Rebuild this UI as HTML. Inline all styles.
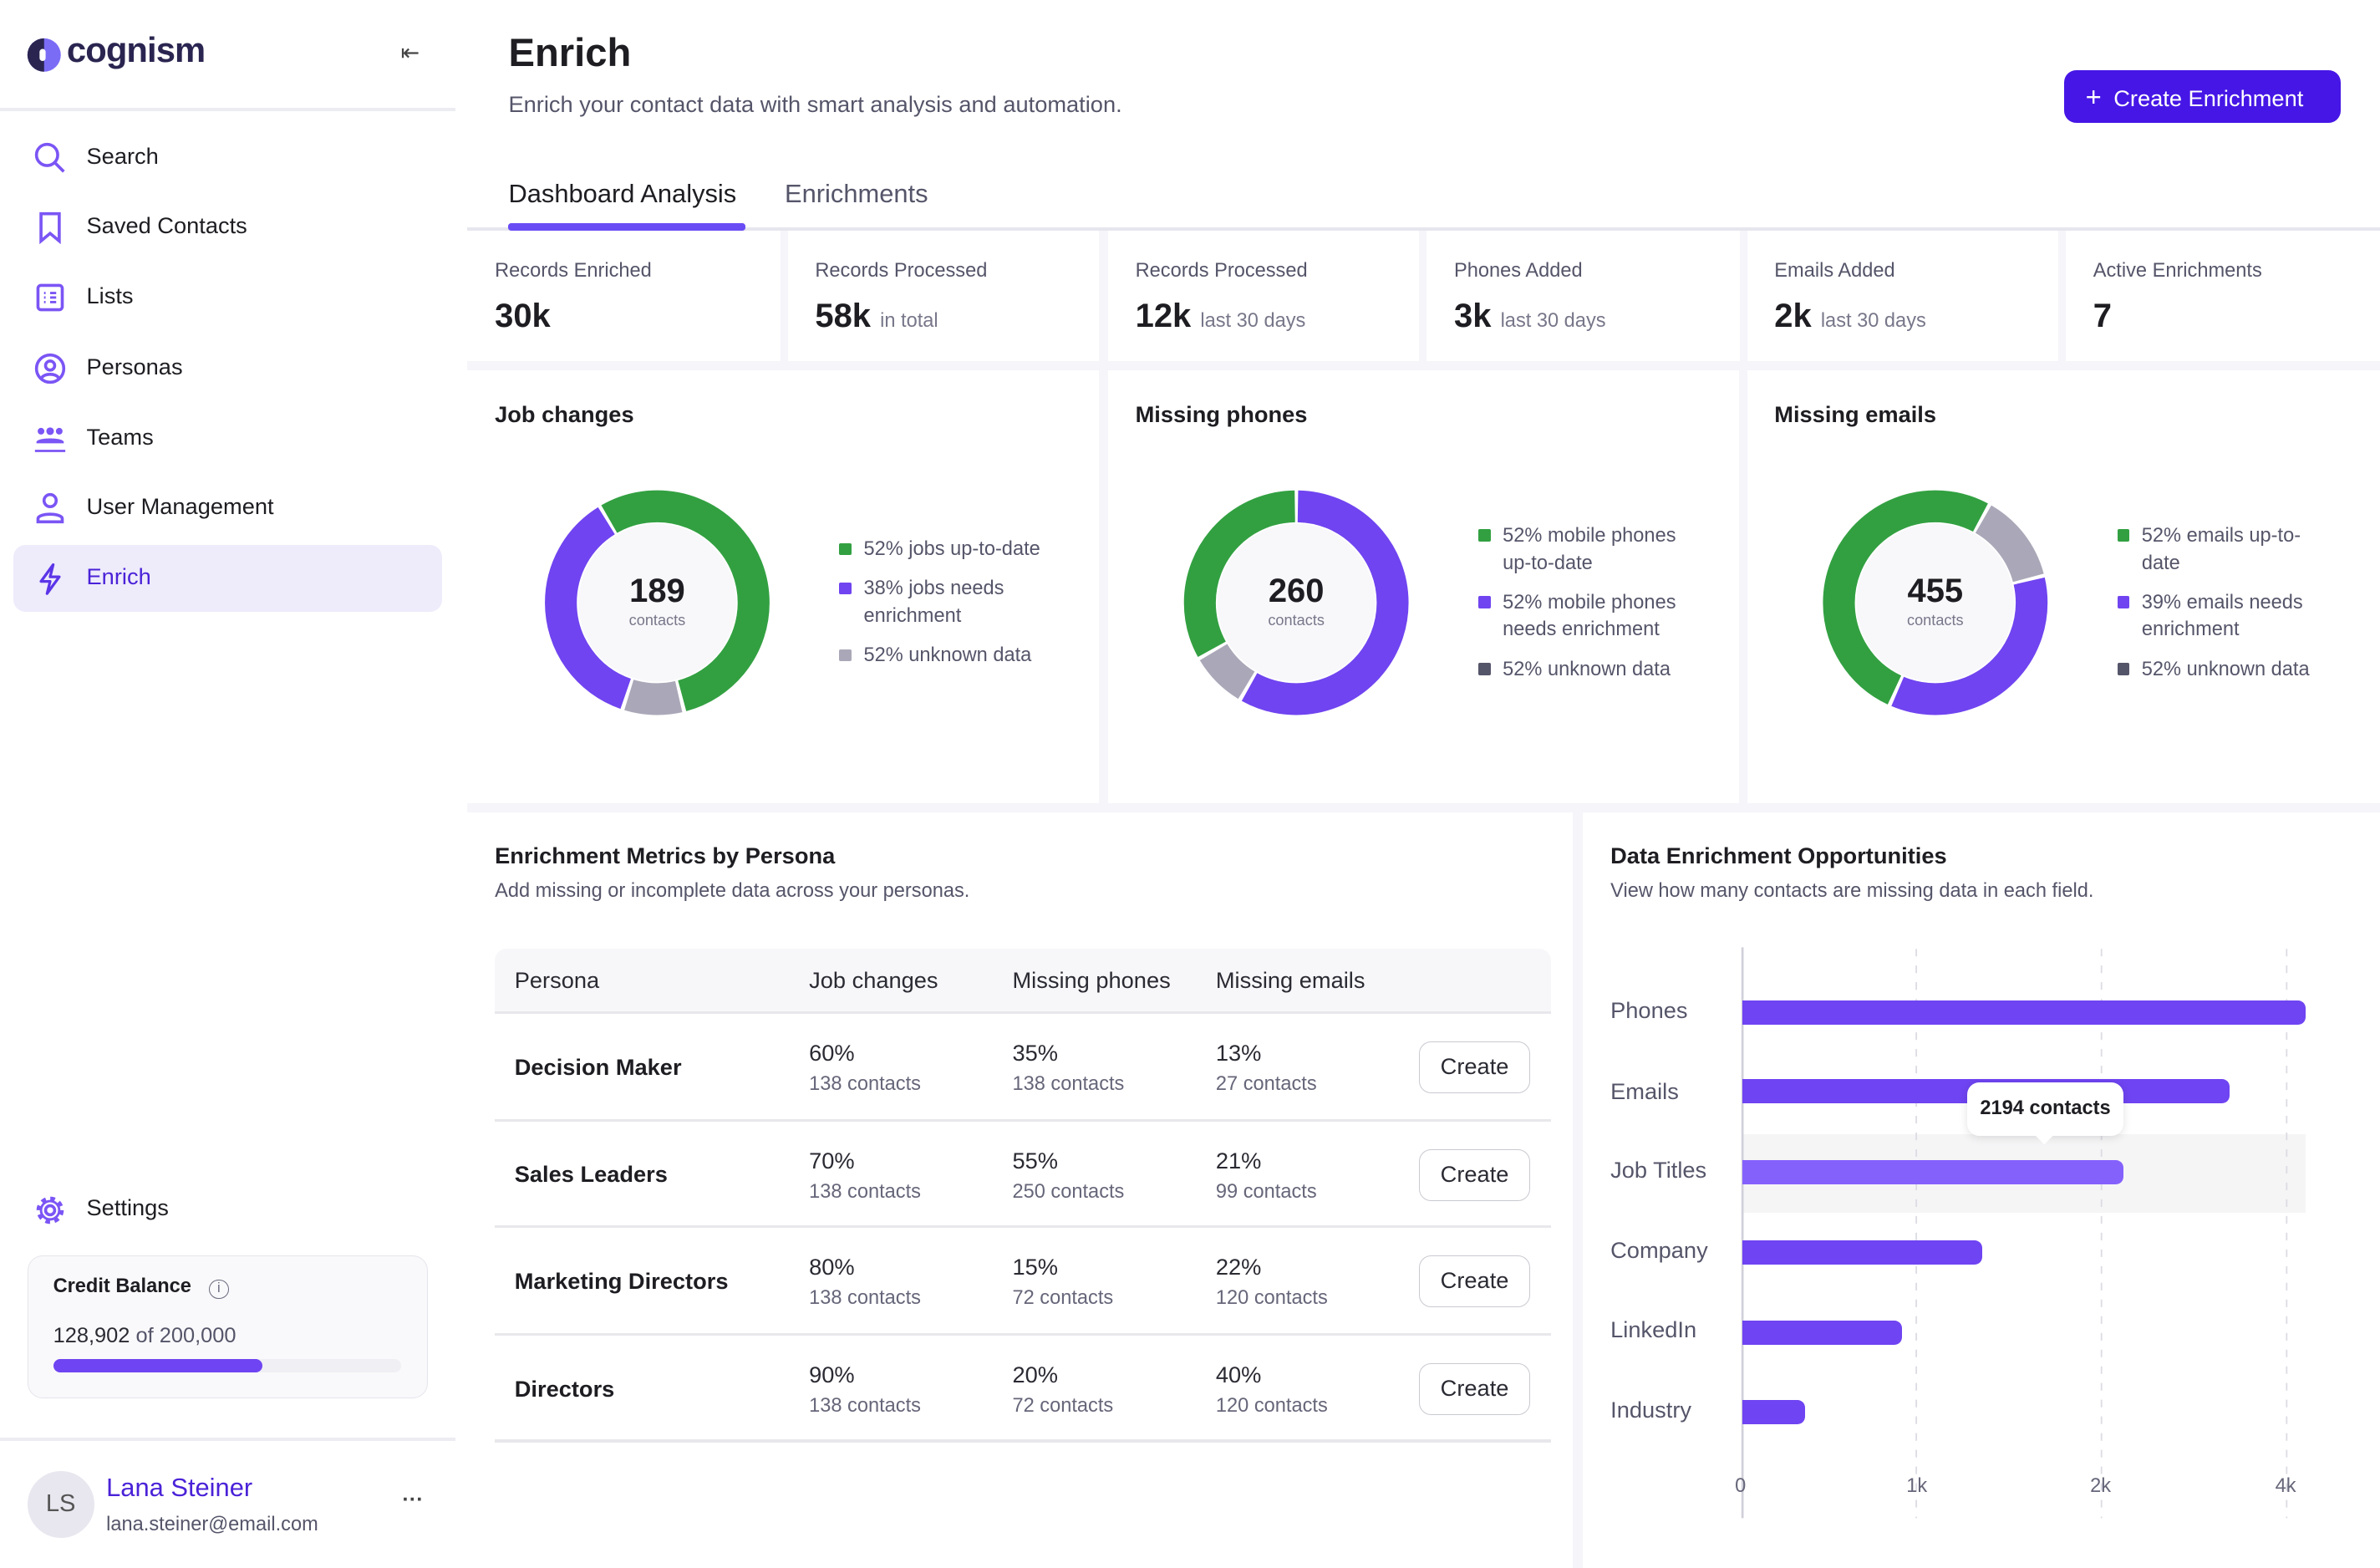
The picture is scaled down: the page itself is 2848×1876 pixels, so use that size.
<!DOCTYPE html>
<html><head><meta charset="utf-8"><style>
*{box-sizing:border-box;margin:0;padding:0}
html,body{width:2848px;height:1876px;overflow:hidden;background:#fff}
#r{zoom:1.81633;width:1568px;height:1033px;position:relative;font-family:"Liberation Sans",sans-serif;color:#1d1d22;background:#fff}
.a{position:absolute;white-space:nowrap}
.bg{position:absolute;background:#f6f6fa}
.card{position:absolute;background:#fff}
.nav{position:absolute;left:57px;font-size:15px;color:#1d1d22}
.ic{position:absolute;left:22px;width:22px;height:22px}
.lab{font-size:13px;color:#55556a}
.big{font-size:22px;font-weight:bold;color:#1d1d22}
.sm{font-size:13px;color:#77778a;font-weight:normal}
.h{font-size:15px;font-weight:bold;color:#1d1d22}
.leg{font-size:13px;color:#55556a;line-height:18px}
.dot{display:inline-block;width:8px;height:8px;border-radius:1px;margin-right:8px}
.th{font-size:15px;color:#2a2a33}
.pct{font-size:15px;color:#2a2a33}
.ct{font-size:13px;color:#66667a}
.btn{position:absolute;left:935px;width:73px;height:34px;border:1px solid #c9c9d1;border-radius:8px;font-size:15px;color:#2a2a33;text-align:center;line-height:32px;background:#fff}
.rl{position:absolute;left:326px;width:696px;height:2px;background:#e8e8ec}
.yl{position:absolute;left:1061px;font-size:15px;color:#55556a}
.bar{position:absolute;left:1148px;height:16px;background:#6f44f2;border-radius:0 5px 5px 0}
.tk{position:absolute;top:972px;font-size:13px;color:#66667a}
</style></head><body><div id="r">
<!-- sidebar -->
<svg class="a" style="left:17px;top:24px" width="24" height="24" viewBox="0 0 24 24"><circle cx="12" cy="12" r="11" fill="#7b6cf6"/><path d="M12 1A11 11 0 0 0 12 23Z" fill="#2a2550"/><rect x="9" y="8" width="4" height="8" rx="2" fill="#fff"/></svg>
<div class="a" style="left:44px;top:20px;font-size:23px;font-weight:bold;color:#2a2550;letter-spacing:-0.5px">cognism</div>
<div class="a" style="left:264px;top:26px;font-size:15px;color:#444">&#8676;</div>
<div class="a" style="left:0;top:71px;width:300px;height:2px;background:#ececf2"></div>
<svg class="ic" style="top:93px" viewBox="0 0 22 22"><circle cx="9" cy="9" r="7" fill="none" stroke="#7b55f5" stroke-width="2"/><path d="M14 14l6 6" stroke="#7b55f5" stroke-width="2"/></svg>
<div class="nav" style="top:94px">Search</div>
<svg class="ic" style="top:139px" viewBox="0 0 22 22"><path d="M5 2h12v18l-6-5-6 5z" fill="none" stroke="#7b55f5" stroke-width="2"/></svg>
<div class="nav" style="top:140px">Saved Contacts</div>
<svg class="ic" style="top:185px" viewBox="0 0 22 22"><rect x="3" y="3" width="16" height="16" rx="2" fill="none" stroke="#7b55f5" stroke-width="2"/><path d="M7 8h1M11 8h4M7 11h1M11 11h4M7 14h1M11 14h4" stroke="#7b55f5" stroke-width="1.6"/></svg>
<div class="nav" style="top:186px">Lists</div>
<svg class="ic" style="top:232px" viewBox="0 0 22 22"><circle cx="11" cy="11" r="9" fill="none" stroke="#7b55f5" stroke-width="2"/><circle cx="11" cy="9" r="3" fill="none" stroke="#7b55f5" stroke-width="2"/><path d="M5.5 17c2-3 9-3 11 0" fill="none" stroke="#7b55f5" stroke-width="2"/></svg>
<div class="nav" style="top:233px">Personas</div>
<svg class="ic" style="top:278px" viewBox="0 0 22 22"><circle cx="5" cy="6" r="2.2" fill="#7b55f5"/><circle cx="11" cy="6" r="2.5" fill="#7b55f5"/><circle cx="17" cy="6" r="2.2" fill="#7b55f5"/><path d="M2 13c1-3 17-3 18 0v1H2z" fill="#7b55f5"/><path d="M1 19h20" stroke="#7b55f5" stroke-width="1.5"/></svg>
<div class="nav" style="top:279px">Teams</div>
<svg class="ic" style="top:324px" viewBox="0 0 22 22"><circle cx="11" cy="6" r="4" fill="none" stroke="#7b55f5" stroke-width="2"/><path d="M3 20v-2c0-4 16-4 16 0v2z" fill="none" stroke="#7b55f5" stroke-width="2"/></svg>
<div class="nav" style="top:325px">User Management</div>
<div class="a" style="left:9px;top:359px;width:282px;height:44px;background:#eeebfb;border-radius:8px"></div>
<svg class="ic" style="top:370px" viewBox="0 0 22 22"><path d="M13 2L5 13h6l-2 8 8-11h-6z" fill="none" stroke="#5b35e8" stroke-width="1.8" stroke-linejoin="round"/></svg>
<div class="nav" style="top:371px;color:#4a22d8">Enrich</div>
<svg class="ic" style="top:786px" viewBox="0 0 22 22"><circle cx="11" cy="11" r="3" fill="none" stroke="#7b55f5" stroke-width="2"/><circle cx="11" cy="11" r="7.5" fill="none" stroke="#7b55f5" stroke-width="3" stroke-dasharray="3 2.9"/><circle cx="11" cy="11" r="6" fill="none" stroke="#7b55f5" stroke-width="1.6"/></svg>
<div class="nav" style="top:787px">Settings</div>
<div class="a" style="left:18px;top:827px;width:264px;height:94px;background:#f9f9fb;border:1px solid #e4e4ec;border-radius:10px"></div>
<div class="a" style="left:35px;top:840px;font-size:13px;font-weight:bold">Credit Balance <span style="display:inline-block;width:13px;height:13px;border:1px solid #6a6a80;border-radius:50%;font-size:9px;text-align:center;line-height:11px;color:#6a6a80;margin-left:8px;font-weight:normal">i</span></div>
<div class="a" style="left:35px;top:872px;font-size:14px;color:#2a2a33">128,902 <span style="color:#55556a">of 200,000</span></div>
<div class="a" style="left:35px;top:895px;width:229px;height:9px;background:#efeff4;border-radius:5px"></div>
<div class="a" style="left:35px;top:895px;width:138px;height:9px;background:#6f44f2;border-radius:5px"></div>
<div class="a" style="left:0;top:947px;width:300px;height:2px;background:#ececf2"></div>
<div class="a" style="left:18px;top:969px;width:44px;height:44px;border-radius:50%;background:#e8e7ef;text-align:center;line-height:44px;font-size:16px;color:#555">LS</div>
<div class="a" style="left:70px;top:970px;font-size:17px;color:#4a22d8">Lana Steiner</div>
<div class="a" style="left:70px;top:997px;font-size:13px;color:#55556a">lana.steiner@email.com</div>
<div class="a" style="left:265px;top:980px;font-size:14px;color:#444;font-weight:bold">&middot;&middot;&middot;</div>
<!-- header -->
<div class="a" style="left:335px;top:20px;font-size:26px;font-weight:bold;color:#1d1d22">Enrich</div>
<div class="a" style="left:335px;top:60px;font-size:15px;color:#55556a">Enrich your contact data with smart analysis and automation.</div>
<div class="a" style="left:1360px;top:46px;width:182px;height:35px;background:#4616e6;border-radius:8px;color:#fff;font-size:15px;line-height:35px;padding-left:14px"><span style="font-size:18px;margin-right:8px">+</span>Create Enrichment</div>
<div class="a" style="left:335px;top:118px;font-size:17px;color:#1d1d22">Dashboard Analysis</div>
<div class="a" style="left:517px;top:118px;font-size:17px;color:#55556a">Enrichments</div>
<div class="bg" style="left:308px;top:150px;width:1260px;height:883px;background:#f5f5fa"></div>
<div class="a" style="left:308px;top:150px;width:1260px;height:2px;background:#e6e6ee"></div>
<div class="a" style="left:335px;top:147px;width:156px;height:5px;background:#6a4cf5;border-radius:2px"></div>
<!-- stats -->
<div class="card" style="left:308px;top:152px;width:206px;height:86px"></div>
<div class="card" style="left:519px;top:152px;width:205px;height:86px"></div>
<div class="card" style="left:730px;top:152px;width:205px;height:86px"></div>
<div class="card" style="left:940px;top:152px;width:206px;height:86px"></div>
<div class="card" style="left:1151px;top:152px;width:205px;height:86px"></div>
<div class="card" style="left:1361px;top:152px;width:207px;height:86px"></div>
<div class="a lab" style="left:326px;top:171px">Records Enriched</div><div class="a big" style="left:326px;top:196px">30k</div>
<div class="a lab" style="left:537px;top:171px">Records Processed</div><div class="a big" style="left:537px;top:196px">58k <span class="sm">in total</span></div>
<div class="a lab" style="left:748px;top:171px">Records Processed</div><div class="a big" style="left:748px;top:196px">12k <span class="sm">last 30 days</span></div>
<div class="a lab" style="left:958px;top:171px">Phones Added</div><div class="a big" style="left:958px;top:196px">3k <span class="sm">last 30 days</span></div>
<div class="a lab" style="left:1169px;top:171px">Emails Added</div><div class="a big" style="left:1169px;top:196px">2k <span class="sm">last 30 days</span></div>
<div class="a lab" style="left:1379px;top:171px">Active Enrichments</div><div class="a big" style="left:1379px;top:196px">7</div>
<!-- donut cards -->
<div class="card" style="left:308px;top:244px;width:416px;height:285px"></div>
<div class="card" style="left:730px;top:244px;width:416px;height:285px"></div>
<div class="card" style="left:1151px;top:244px;width:417px;height:285px"></div>
<div class="a h" style="left:326px;top:264px">Job changes</div>
<div class="a h" style="left:748px;top:264px">Missing phones</div>
<div class="a h" style="left:1169px;top:264px">Missing emails</div>
<svg class="a" style="left:0;top:0" width="1568" height="1033">
 <g transform="rotate(-90 433 397)" fill="none" stroke-width="21">
  <circle cx="433" cy="397" r="63.5" stroke="#32a041" stroke-dasharray="216.1 182.9" stroke-dashoffset="-365.7"/>
  <circle cx="433" cy="397" r="63.5" stroke="#aaa8b8" stroke-dasharray="33.2 365.8" stroke-dashoffset="-185.1"/>
  <circle cx="433" cy="397" r="63.5" stroke="#7044f0" stroke-dasharray="143 256" stroke-dashoffset="-220.6"/>
 </g>
 <circle cx="433" cy="397" r="52" fill="#f8f8fb"/>
 <g transform="rotate(-90 854 397)" fill="none" stroke-width="21">
  <circle cx="854" cy="397" r="63.5" stroke="#7044f0" stroke-dasharray="230.5 168.5" stroke-dashoffset="-1.1"/>
  <circle cx="854" cy="397" r="63.5" stroke="#aaa8b8" stroke-dasharray="31 368" stroke-dashoffset="-233.9"/>
  <circle cx="854" cy="397" r="63.5" stroke="#32a041" stroke-dasharray="130.8 268.2" stroke-dashoffset="-267.1"/>
 </g>
 <circle cx="854" cy="397" r="52" fill="#f8f8fb"/>
 <g transform="rotate(-90 1275 397)" fill="none" stroke-width="21">
  <circle cx="1275" cy="397" r="63.5" stroke="#7044f0" stroke-dasharray="139.6 259.4" stroke-dashoffset="-85.3"/>
  <circle cx="1275" cy="397" r="63.5" stroke="#32a041" stroke-dasharray="202.8 196.2" stroke-dashoffset="-227.2"/>
  <circle cx="1275" cy="397" r="63.5" stroke="#aaa8b8" stroke-dasharray="49.9 349.1" stroke-dashoffset="-33.2"/>
 </g>
 <circle cx="1275" cy="397" r="52" fill="#f8f8fb"/>
</svg>
<div class="a" style="left:383px;top:377px;width:100px;text-align:center;font-size:22px;font-weight:bold">189</div>
<div class="a" style="left:383px;top:403px;width:100px;text-align:center;font-size:10px;color:#77778a">contacts</div>
<div class="a" style="left:804px;top:377px;width:100px;text-align:center;font-size:22px;font-weight:bold">260</div>
<div class="a" style="left:804px;top:403px;width:100px;text-align:center;font-size:10px;color:#77778a">contacts</div>
<div class="a" style="left:1225px;top:377px;width:100px;text-align:center;font-size:22px;font-weight:bold">455</div>
<div class="a" style="left:1225px;top:403px;width:100px;text-align:center;font-size:10px;color:#77778a">contacts</div>
<div class="a leg" style="left:553px;top:353px"><span class="dot" style="background:#32a041"></span>52% jobs up-to-date</div>
<div class="a leg" style="left:553px;top:379px"><span class="dot" style="background:#7044f0"></span>38% jobs needs<br><span style="padding-left:16px">enrichment</span></div>
<div class="a leg" style="left:553px;top:423px"><span class="dot" style="background:#aaa8b8"></span>52% unknown data</div>
<div class="a leg" style="left:974px;top:344px"><span class="dot" style="background:#32a041"></span>52% mobile phones<br><span style="padding-left:16px">up-to-date</span></div>
<div class="a leg" style="left:974px;top:388px"><span class="dot" style="background:#7044f0"></span>52% mobile phones<br><span style="padding-left:16px">needs enrichment</span></div>
<div class="a leg" style="left:974px;top:432px"><span class="dot" style="background:#55556a"></span>52% unknown data</div>
<div class="a leg" style="left:1395px;top:344px"><span class="dot" style="background:#32a041"></span>52% emails up-to-<br><span style="padding-left:16px">date</span></div>
<div class="a leg" style="left:1395px;top:388px"><span class="dot" style="background:#7044f0"></span>39% emails needs<br><span style="padding-left:16px">enrichment</span></div>
<div class="a leg" style="left:1395px;top:432px"><span class="dot" style="background:#55556a"></span>52% unknown data</div>
<!-- table card -->
<div class="card" style="left:308px;top:535px;width:728px;height:498px"></div>
<div class="a h" style="left:326px;top:555px">Enrichment Metrics by Persona</div>
<div class="a" style="left:326px;top:580px;font-size:13px;color:#55556a">Add missing or incomplete data across your personas.</div>
<div class="a" style="left:326px;top:625px;width:696px;height:42px;background:#f7f7f9;border-radius:8px 8px 0 0"></div>
<div class="rl" style="top:666px"></div><div class="rl" style="top:737px"></div><div class="rl" style="top:807px"></div><div class="rl" style="top:878px"></div><div class="rl" style="top:948px"></div>
<div class="a th" style="left:339px;top:637px">Persona</div>
<div class="a th" style="left:533px;top:637px">Job changes</div>
<div class="a th" style="left:667px;top:637px">Missing phones</div>
<div class="a th" style="left:801px;top:637px">Missing emails</div>
<div class="a h" style="left:339px;top:694px;font-weight:bold">Decision Maker</div>
<div class="a pct" style="left:533px;top:685px">60%</div><div class="a ct" style="left:533px;top:707px">138 contacts</div>
<div class="a pct" style="left:667px;top:685px">35%</div><div class="a ct" style="left:667px;top:707px">138 contacts</div>
<div class="a pct" style="left:801px;top:685px">13%</div><div class="a ct" style="left:801px;top:707px">27 contacts</div>
<div class="btn" style="top:686px">Create</div>
<div class="a h" style="left:339px;top:765px">Sales Leaders</div>
<div class="a pct" style="left:533px;top:756px">70%</div><div class="a ct" style="left:533px;top:778px">138 contacts</div>
<div class="a pct" style="left:667px;top:756px">55%</div><div class="a ct" style="left:667px;top:778px">250 contacts</div>
<div class="a pct" style="left:801px;top:756px">21%</div><div class="a ct" style="left:801px;top:778px">99 contacts</div>
<div class="btn" style="top:757px">Create</div>
<div class="a h" style="left:339px;top:835px">Marketing Directors</div>
<div class="a pct" style="left:533px;top:826px">80%</div><div class="a ct" style="left:533px;top:848px">138 contacts</div>
<div class="a pct" style="left:667px;top:826px">15%</div><div class="a ct" style="left:667px;top:848px">72 contacts</div>
<div class="a pct" style="left:801px;top:826px">22%</div><div class="a ct" style="left:801px;top:848px">120 contacts</div>
<div class="btn" style="top:827px">Create</div>
<div class="a h" style="left:339px;top:906px">Directors</div>
<div class="a pct" style="left:533px;top:897px">90%</div><div class="a ct" style="left:533px;top:919px">138 contacts</div>
<div class="a pct" style="left:667px;top:897px">20%</div><div class="a ct" style="left:667px;top:919px">72 contacts</div>
<div class="a pct" style="left:801px;top:897px">40%</div><div class="a ct" style="left:801px;top:919px">120 contacts</div>
<div class="btn" style="top:898px">Create</div>
<!-- bar card -->
<div class="card" style="left:1043px;top:535px;width:525px;height:498px"></div>
<div class="a h" style="left:1061px;top:555px">Data Enrichment Opportunities</div>
<div class="a" style="left:1061px;top:580px;font-size:13px;color:#55556a">View how many contacts are missing data in each field.</div>
<div class="a" style="left:1148px;top:747px;width:371px;height:52px;background:#f5f5f6"></div>
<svg class="a" style="left:0;top:0" width="1568" height="1033"><g stroke="#dcdce4" stroke-width="1" stroke-dasharray="5 6"><path d="M1262.5 625V1000M1384.5 625V1000M1506.5 625V1000"/></g><path d="M1148 624V1000" stroke="#d0d0da" stroke-width="1.5"/></svg>
<div class="yl" style="top:657px">Phones</div>
<div class="yl" style="top:710px">Emails</div>
<div class="yl" style="top:762px">Job Titles</div>
<div class="yl" style="top:815px">Company</div>
<div class="yl" style="top:867px">LinkedIn</div>
<div class="yl" style="top:920px">Industry</div>
<div class="bar" style="top:659px;width:371px"></div>
<div class="bar" style="top:711px;width:321px"></div>
<div class="bar" style="top:764px;width:251px;background:#8561fc"></div>
<div class="bar" style="top:817px;width:158px"></div>
<div class="bar" style="top:870px;width:105px"></div>
<div class="bar" style="top:922px;width:41px"></div>
<div class="a" style="left:1296px;top:713px;width:103px;height:35px;background:#fff;border-radius:8px;box-shadow:0 1px 6px rgba(0,0,0,0.12);font-size:13px;font-weight:bold;text-align:center;line-height:35px">2194 contacts</div>
<div class="a" style="left:1343px;top:744px;width:8px;height:8px;background:#fff;transform:rotate(45deg)"></div>
<div class="tk" style="left:1143px">0</div>
<div class="tk" style="left:1256px">1k</div>
<div class="tk" style="left:1377px">2k</div>
<div class="tk" style="left:1499px">4k</div>
</div></body></html>
